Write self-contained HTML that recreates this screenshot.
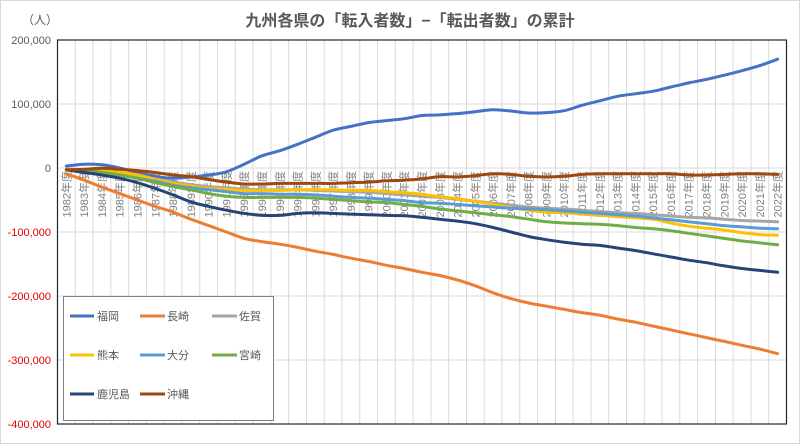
<!DOCTYPE html>
<html><head><meta charset="utf-8"><style>
html,body{margin:0;padding:0;background:#fff}
svg{display:block}
text{font-family:"Liberation Sans","Noto Sans CJK JP",sans-serif}
</style></head><body>
<svg id="c" width="800" height="444" viewBox="0 0 800 444" xmlns="http://www.w3.org/2000/svg">
<rect x="0.5" y="0.5" width="799" height="443" fill="#fff" stroke="#d9d9d9"/>
<text x="410" y="26" text-anchor="middle" font-size="16" font-weight="bold" fill="#595959">九州各県の「転入者数」−「転出者数」の累計</text>
<text x="22" y="24" font-size="12" fill="#595959">（人）</text>
<g id="grid" stroke="#d9d9d9" stroke-width="1"></g>
<g font-size="11" text-anchor="end">
<text x="51" y="44" fill="#595959">200,000</text>
<text x="51" y="108" fill="#595959">100,000</text>
<text x="51" y="172" fill="#595959">0</text>
<text x="51" y="236" fill="#e00000">-100,000</text>
<text x="51" y="300" fill="#e00000">-200,000</text>
<text x="51" y="364" fill="#e00000">-300,000</text>
<text x="51" y="428" fill="#e00000">-400,000</text>
</g>
<g font-size="11" fill="#7f7f7f" text-anchor="end">
<text transform="translate(70.4,171) rotate(-90)">1982年度</text>
<text transform="translate(88.2,171) rotate(-90)">1983年度</text>
<text transform="translate(106,171) rotate(-90)">1984年度</text>
<text transform="translate(123.7,171) rotate(-90)">1985年度</text>
<text transform="translate(141.5,171) rotate(-90)">1986年度</text>
<text transform="translate(159.3,171) rotate(-90)">1987年度</text>
<text transform="translate(177.1,171) rotate(-90)">1988年度</text>
<text transform="translate(194.9,171) rotate(-90)">1989年度</text>
<text transform="translate(212.6,171) rotate(-90)">1990年度</text>
<text transform="translate(230.4,171) rotate(-90)">1991年度</text>
<text transform="translate(248.2,171) rotate(-90)">1992年度</text>
<text transform="translate(266,171) rotate(-90)">1993年度</text>
<text transform="translate(283.8,171) rotate(-90)">1994年度</text>
<text transform="translate(301.5,171) rotate(-90)">1995年度</text>
<text transform="translate(319.3,171) rotate(-90)">1996年度</text>
<text transform="translate(337.1,171) rotate(-90)">1997年度</text>
<text transform="translate(354.9,171) rotate(-90)">1998年度</text>
<text transform="translate(372.7,171) rotate(-90)">1999年度</text>
<text transform="translate(390.4,171) rotate(-90)">2000年度</text>
<text transform="translate(408.2,171) rotate(-90)">2001年度</text>
<text transform="translate(426,171) rotate(-90)">2002年度</text>
<text transform="translate(443.8,171) rotate(-90)">2003年度</text>
<text transform="translate(461.6,171) rotate(-90)">2004年度</text>
<text transform="translate(479.3,171) rotate(-90)">2005年度</text>
<text transform="translate(497.1,171) rotate(-90)">2006年度</text>
<text transform="translate(514.9,171) rotate(-90)">2007年度</text>
<text transform="translate(532.7,171) rotate(-90)">2008年度</text>
<text transform="translate(550.5,171) rotate(-90)">2009年度</text>
<text transform="translate(568.2,171) rotate(-90)">2010年度</text>
<text transform="translate(586,171) rotate(-90)">2011年度</text>
<text transform="translate(603.8,171) rotate(-90)">2012年度</text>
<text transform="translate(621.6,171) rotate(-90)">2013年度</text>
<text transform="translate(639.4,171) rotate(-90)">2014年度</text>
<text transform="translate(657.1,171) rotate(-90)">2015年度</text>
<text transform="translate(674.9,171) rotate(-90)">2016年度</text>
<text transform="translate(692.7,171) rotate(-90)">2017年度</text>
<text transform="translate(710.5,171) rotate(-90)">2018年度</text>
<text transform="translate(728.3,171) rotate(-90)">2019年度</text>
<text transform="translate(746,171) rotate(-90)">2020年度</text>
<text transform="translate(763.8,171) rotate(-90)">2021年度</text>
<text transform="translate(781.6,171) rotate(-90)">2022年度</text>
</g>
<g id="lines" fill="none" stroke-width="3" stroke-linejoin="round" stroke-linecap="round"></g>
<rect x="57.5" y="40" width="729" height="384" fill="none" stroke="#262626" stroke-width="1.2"/>
<g>
<rect x="63.5" y="296.5" width="210" height="124" fill="#fff" stroke="#7f7f7f"/>
<g stroke-width="3">
<line x1="70" y1="316" x2="94" y2="316" stroke="#4472c4"/>
<line x1="140" y1="316" x2="165" y2="316" stroke="#ed7d31"/>
<line x1="212" y1="316" x2="237" y2="316" stroke="#a5a5a5"/>
<line x1="70" y1="355" x2="94" y2="355" stroke="#ffc000"/>
<line x1="140" y1="355" x2="165" y2="355" stroke="#5b9bd5"/>
<line x1="212" y1="355" x2="237" y2="355" stroke="#70ad47"/>
<line x1="70" y1="394" x2="94" y2="394" stroke="#264478"/>
<line x1="140" y1="394" x2="165" y2="394" stroke="#9e480e"/>
</g>
<g font-size="11" fill="#595959">
<text x="97" y="320">福岡</text><text x="167" y="320">長崎</text><text x="239" y="320">佐賀</text>
<text x="97" y="359">熊本</text><text x="167" y="359">大分</text><text x="239" y="359">宮崎</text>
<text x="97" y="398">鹿児島</text><text x="167" y="398">沖縄</text>
</g>
</g>
</svg>
<script>
(function(){
var g=document.getElementById('grid'),L=57.5,W=729/41,s='';
for(var i=1;i<41;i++){var x=L+W*i;s+='<line x1="'+x+'" y1="40" x2="'+x+'" y2="424"/>';}
for(var j=0;j<7;j++){var y=40+64*j;s+='<line x1="57.5" y1="'+y+'" x2="786.5" y2="'+y+'"/>';}
g.innerHTML=s;
var D=[
['#4472c4',[3,6,5,0,-7,-13,-16,-14,-11,-6,6,19,27,37,48,59,65,71,74,77,82,83,85,88,91,89,86,86.5,89.5,98,105,112,116,120,126.5,133,138.5,145,152,160,170]],
['#ed7d31',[-9,-19,-30,-40,-50,-60,-69,-80,-90,-100,-110,-115,-119,-124,-130,-135,-141,-146,-152,-157,-163,-168,-175,-184,-195,-204,-211,-216,-221,-226,-230,-236,-241,-247,-253,-259,-265,-271,-277,-283,-290]],
['#a5a5a5',[-2,-3,-4,-7,-11,-17,-22,-26,-29,-31,-33,-34,-34,-34,-35,-36,-37,-38,-40,-42,-44,-46,-49,-52,-55,-58,-61,-63,-64,-66,-68,-70,-71,-73,-75,-77,-78,-80,-82,-83,-84]],
['#ffc000',[-3,-3,-4,-7,-11,-18,-24,-28,-32,-33,-35,-35,-35,-34,-34,-34,-35,-35,-37,-38.5,-41,-45,-48,-52,-57,-62,-66,-69,-70,-72,-74,-76,-78,-80,-86,-91,-94,-97,-101,-104,-105]],
['#5b9bd5',[-3,-4,-7,-11,-16,-21,-27,-31,-34,-37,-40,-40,-41,-41,-42,-44,-46,-47,-49,-51,-54,-55,-57,-59,-61,-63,-64,-65,-67,-69,-71,-73,-75,-78,-81,-84,-87,-90,-92,-94,-95]],
['#70ad47',[-3,-4,-7,-11,-16,-23,-29,-34,-40,-44,-46,-46,-46,-46,-47,-49,-51,-53,-54,-57,-60,-64,-67,-70,-73,-76,-80,-84,-86,-87,-88,-90,-93,-95,-98,-102,-106,-110,-114,-117,-120]],
['#264478',[-3,-7,-11,-16,-23,-32,-42,-53,-60,-66,-71,-74,-74,-71,-70,-71,-72,-73,-74,-74.5,-77,-80,-83,-87,-93,-100,-107,-112,-116,-119,-121,-125,-129,-134,-139,-144,-148,-153,-157,-160,-163]],
['#9e480e',[-3,-2,-0.5,-2,-4,-7,-11,-13.5,-18,-22,-25,-25,-24,-24,-24,-24,-23,-22,-20,-19,-17,-13.5,-14,-12,-9,-10,-13,-14,-13,-10,-9,-9,-9,-9,-9,-11,-11,-10,-9,-9,-10]]
];
var out='';
D.forEach(function(d){
 var p=d[1].map(function(v,i){return [L+W*(i+0.5),168-v*0.64];});
 var path='M'+p[0][0].toFixed(1)+','+p[0][1].toFixed(1);
 for(var i=0;i<p.length-1;i++){
  var p0=p[i-1]||p[i],p1=p[i],p2=p[i+1],p3=p[i+2]||p2,t=6;
  path+=' C'+(p1[0]+(p2[0]-p0[0])/t).toFixed(1)+','+(p1[1]+(p2[1]-p0[1])/t).toFixed(1)+' '+(p2[0]-(p3[0]-p1[0])/t).toFixed(1)+','+(p2[1]-(p3[1]-p1[1])/t).toFixed(1)+' '+p2[0].toFixed(1)+','+p2[1].toFixed(1);
 }
 out+='<path d="'+path+'" stroke="'+d[0]+'"/>';
});
document.getElementById('lines').innerHTML=out;
})();
</script>
</body></html>
